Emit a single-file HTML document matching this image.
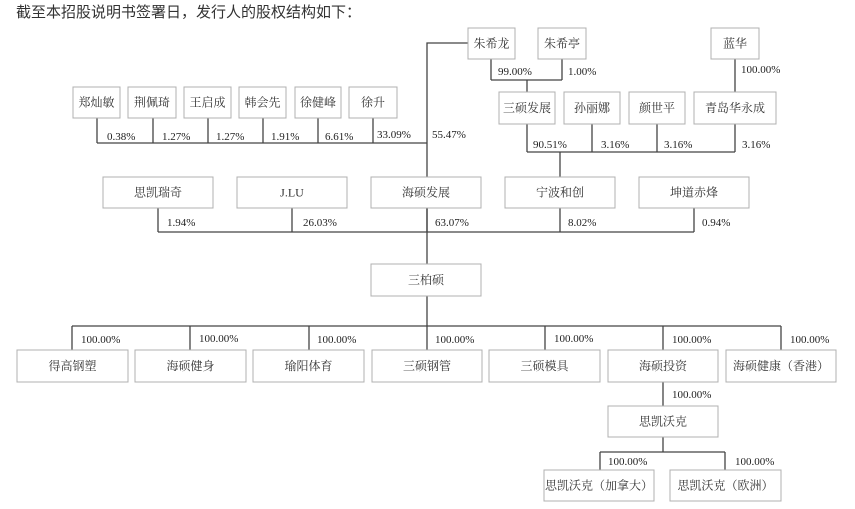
<!DOCTYPE html>
<html><head><meta charset="utf-8"><style>
html,body{margin:0;padding:0;background:#fff;width:855px;height:509px;overflow:hidden}
svg{display:block}
.t{font-family:"Liberation Serif","Noto Serif CJK SC",serif;font-size:12px;fill:#333;text-anchor:middle;dominant-baseline:central}
.p{font-family:"Liberation Serif",serif;font-size:11px;fill:#222}
rect{fill:#fff;stroke:#b0b0b0;stroke-width:1}
path{stroke:#444;stroke-width:1.3;fill:none}
</style></head><body>
<svg width="855" height="509" xmlns="http://www.w3.org/2000/svg">
<text x="16" y="17" style="font-family:'Liberation Sans','Noto Sans CJK SC',sans-serif;font-size:15px;fill:#333">截至本招股说明书签署日，发行人的股权结构如下：</text>
<path d="M97 118V143M153 118V143M208 118V143M263 118V143M318 118V143M373 118V143M97 143H427M468 43H427V264"/>
<path d="M491 59V80M562 59V80M491 80H562M527 80V92M735 59V92"/>
<path d="M527 124V152M592 124V152M657 124V152M735 124V152M527 152H735M560 152V177"/>
<path d="M158 208V232M292 208V232M427 208V232M560 208V232M694 208V232M158 232H694"/>
<path d="M427 296V326M72 326H781M72 326V350M190 326V350M309 326V350M427 326V350M545 326V350M663 326V350M781 326V350"/>
<path d="M663 382V406M663 437V452M600 452H725M600 452V470M725 452V470"/>
<g>
<rect x="73" y="87" width="47" height="31"/><text class="t" x="96.5" y="102.5">郑灿敏</text>
<rect x="128" y="87" width="48" height="31"/><text class="t" x="152" y="102.5">荆佩琦</text>
<rect x="184" y="87" width="47" height="31"/><text class="t" x="207.5" y="102.5">王启成</text>
<rect x="239" y="87" width="47" height="31"/><text class="t" x="262.5" y="102.5">韩会先</text>
<rect x="295" y="87" width="46" height="31"/><text class="t" x="318" y="102.5">徐健峰</text>
<rect x="349" y="87" width="48" height="31"/><text class="t" x="373" y="102.5">徐升</text>
<rect x="468" y="28" width="47" height="31"/><text class="t" x="491.5" y="43.5">朱希龙</text>
<rect x="538" y="28" width="48" height="31"/><text class="t" x="562" y="43.5">朱希亭</text>
<rect x="711" y="28" width="48" height="31"/><text class="t" x="735" y="43.5">蓝华</text>
<rect x="499" y="92" width="56" height="32"/><text class="t" x="527" y="108">三硕发展</text>
<rect x="564" y="92" width="56" height="32"/><text class="t" x="592" y="108">孙丽娜</text>
<rect x="629" y="92" width="56" height="32"/><text class="t" x="657" y="108">颜世平</text>
<rect x="694" y="92" width="82" height="32"/><text class="t" x="735" y="108">青岛华永成</text>
<rect x="103" y="177" width="110" height="31"/><text class="t" x="158" y="192.5">思凯瑞奇</text>
<rect x="237" y="177" width="110" height="31"/><text class="t" x="292" y="192.5">J.LU</text>
<rect x="371" y="177" width="110" height="31"/><text class="t" x="426" y="192.5">海硕发展</text>
<rect x="505" y="177" width="110" height="31"/><text class="t" x="560" y="192.5">宁波和创</text>
<rect x="639" y="177" width="110" height="31"/><text class="t" x="694" y="192.5">坤道赤烽</text>
<rect x="371" y="264" width="110" height="32"/><text class="t" x="426" y="280">三柏硕</text>
<rect x="17" y="350" width="111" height="32"/><text class="t" x="72.5" y="366">得高钢塑</text>
<rect x="135" y="350" width="111" height="32"/><text class="t" x="190.5" y="366">海硕健身</text>
<rect x="253" y="350" width="111" height="32"/><text class="t" x="308.5" y="366">瑜阳体育</text>
<rect x="372" y="350" width="110" height="32"/><text class="t" x="427" y="366">三硕钢管</text>
<rect x="489" y="350" width="111" height="32"/><text class="t" x="544.5" y="366">三硕模具</text>
<rect x="608" y="350" width="110" height="32"/><text class="t" x="663" y="366">海硕投资</text>
<rect x="726" y="350" width="110" height="32"/><text class="t" x="781" y="366">海硕健康（香港）</text>
<rect x="608" y="406" width="110" height="31"/><text class="t" x="663" y="421.5">思凯沃克</text>
<rect x="544" y="470" width="110" height="31"/><text class="t" x="599" y="485.5">思凯沃克（加拿大）</text>
<rect x="670" y="470" width="111" height="31"/><text class="t" x="725.5" y="485.5">思凯沃克（欧洲）</text>
</g>
<g class="p">
<text class="p" x="107" y="140">0.38%</text><text class="p" x="162" y="140">1.27%</text><text class="p" x="216" y="140">1.27%</text><text class="p" x="271" y="140">1.91%</text><text class="p" x="325" y="140">6.61%</text><text class="p" x="377" y="138">33.09%</text><text class="p" x="432" y="138">55.47%</text>
<text class="p" x="498" y="75">99.00%</text><text class="p" x="568" y="75">1.00%</text><text class="p" x="741" y="73">100.00%</text>
<text class="p" x="533" y="148">90.51%</text><text class="p" x="601" y="148">3.16%</text><text class="p" x="664" y="148">3.16%</text><text class="p" x="742" y="148">3.16%</text>
<text class="p" x="167" y="226">1.94%</text><text class="p" x="303" y="226">26.03%</text><text class="p" x="435" y="226">63.07%</text><text class="p" x="568" y="226">8.02%</text><text class="p" x="702" y="226">0.94%</text>
<text class="p" x="81" y="343">100.00%</text><text class="p" x="199" y="342">100.00%</text><text class="p" x="317" y="343">100.00%</text><text class="p" x="435" y="343">100.00%</text><text class="p" x="554" y="342">100.00%</text><text class="p" x="672" y="343">100.00%</text><text class="p" x="790" y="343">100.00%</text>
<text class="p" x="672" y="398">100.00%</text><text class="p" x="608" y="465">100.00%</text><text class="p" x="735" y="465">100.00%</text>
</g>
</svg>
</body></html>
